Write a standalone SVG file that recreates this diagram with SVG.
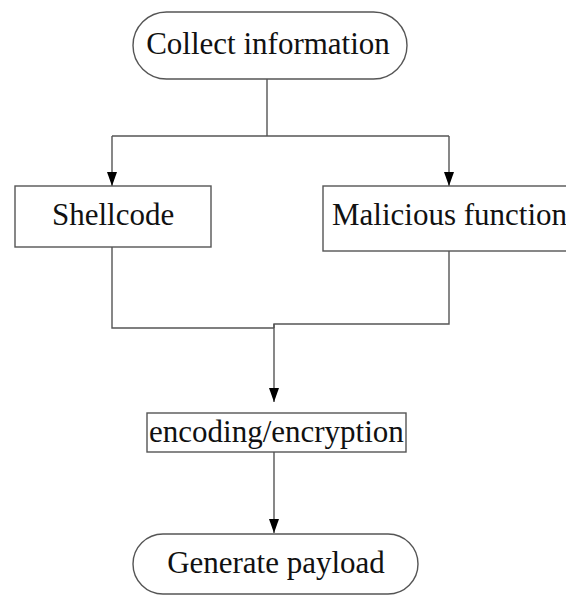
<svg xmlns="http://www.w3.org/2000/svg" width="566" height="595" viewBox="0 0 566 595">
  <style>
    .box { fill: #ffffff; stroke: #555555; stroke-width: 1.4; }
    .lbl { font-family: "Liberation Serif", "Times New Roman", serif; font-size: 31px; fill: #111111; }
    .wire { fill: none; stroke: #555555; stroke-width: 1.4; }
  </style>
  <defs>
    <marker id="arrow" viewBox="0 0 14 10" refX="14" refY="5" markerWidth="14" markerHeight="10" markerUnits="userSpaceOnUse" orient="auto">
      <path d="M0,0 L14,5 L0,10 Z" fill="#000000"/>
    </marker>
  </defs>
  <rect width="566" height="595" fill="#ffffff"/>

  <g id="connectors">
    <path class="wire" d="M267,79 V136 M112,136 H449"/>
    <path class="wire" d="M112,136 V186" marker-end="url(#arrow)"/>
    <path class="wire" d="M449,136 V186" marker-end="url(#arrow)"/>
    <path class="wire" d="M112,247 V328 H274 M449,251 V324 H274 V328"/>
    <path class="wire" d="M274,324 V402" marker-end="url(#arrow)"/>
    <path class="wire" d="M274,452 V533" marker-end="url(#arrow)"/>
  </g>

  <g id="collect">
    <rect class="box" x="133" y="12" width="274" height="67" rx="33.5"/>
    <text class="lbl" x="268" y="54" text-anchor="middle">Collect information</text>
  </g>

  <g id="shellcode">
    <rect class="box" x="15" y="186" width="196" height="61"/>
    <text class="lbl" x="52" y="225">Shellcode</text>
  </g>

  <g id="malicious">
    <rect class="box" x="323" y="186" width="260" height="65"/>
    <text class="lbl" x="332" y="225">Malicious function</text>
  </g>

  <g id="encoding">
    <rect class="box" x="147" y="413" width="259" height="39"/>
    <text class="lbl" x="149" y="442">encoding/encryption</text>
  </g>

  <g id="payload">
    <rect class="box" x="133" y="534" width="285" height="60" rx="30"/>
    <text class="lbl" x="276" y="573" text-anchor="middle">Generate payload</text>
  </g>
</svg>
